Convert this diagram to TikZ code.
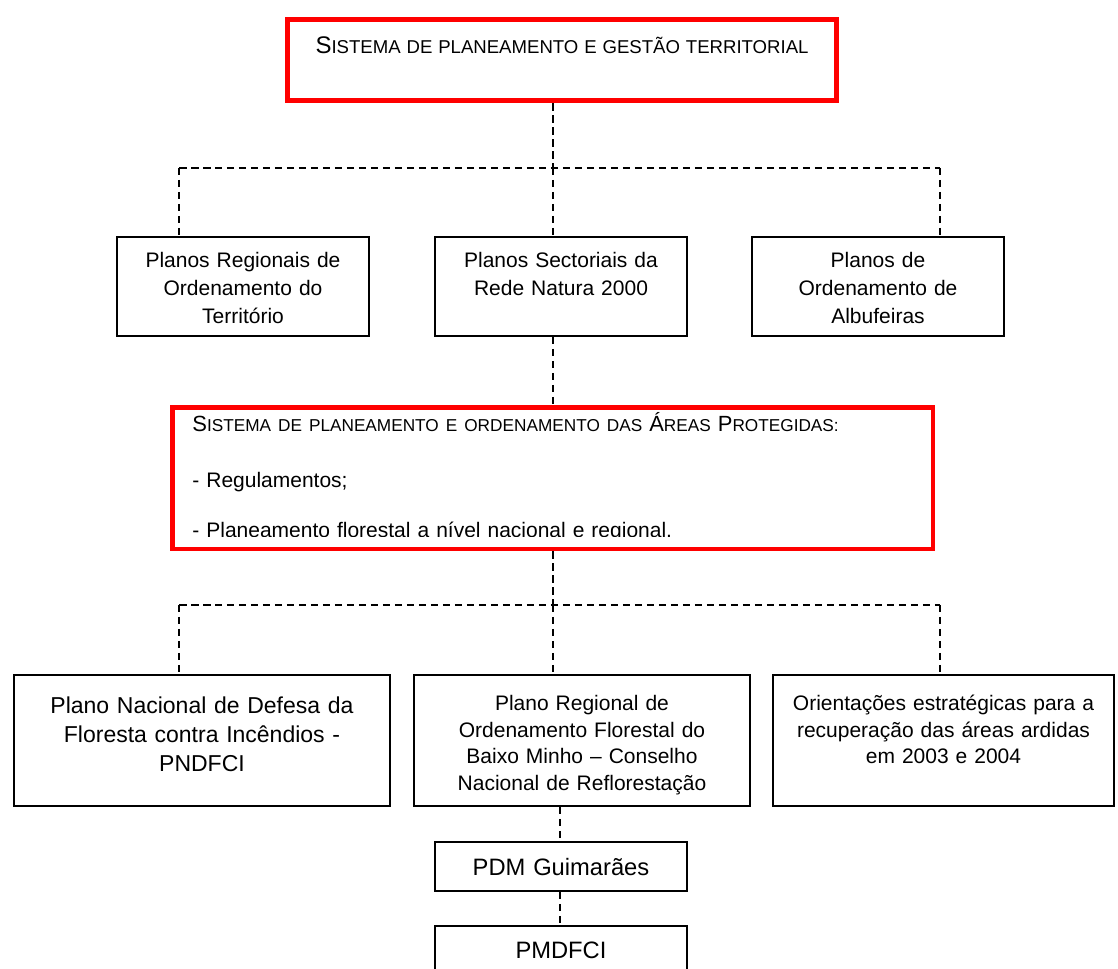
\documentclass[tikz,border=0pt]{standalone}
\usepackage{fontspec}
\setmainfont{Liberation Sans}
\usepackage{tikz}
% fake small caps for the two headers
\newcommand{\scA}[1]{{\fontsize{13.66pt}{16pt}\selectfont #1}}
\newcommand{\scB}[1]{{\fontsize{10.58pt}{16pt}\selectfont #1}}
\newcommand{\scC}[1]{{\fontsize{12.5pt}{16pt}\selectfont #1}}
\newcommand{\scD}[1]{{\fontsize{9.8pt}{16pt}\selectfont #1}}
\tikzset{
    box/.style={draw, line width=0.04cm, inner sep=0mm, anchor=north west, align=center},
    redbox/.style={box, draw=red, line width=0.1cm},
    link/.style={dash pattern=on 0.15cm off 0.09cm, line width=0.035cm},
    rowtwo/.style={font=\fontsize{11.95pt}{15.93pt}\selectfont, text width=4.8cm,
        minimum width=5.04cm, text height=0.62cm, text depth=1.36cm},
    rowthree/.style={font=\fontsize{11.95pt}{15.08pt}\selectfont,
        text height=0.72cm, text depth=1.90cm}
}

\begin{document}
\begin{tikzpicture}
    \useasboundingbox (0cm, 0cm) rectangle (22.36cm, 19.38cm);
    \clip (0cm, 0cm) rectangle (22.36cm, 19.38cm);

    \node (sgt) [redbox, minimum width=10.98cm, text width=10.5cm, text height=0.67cm, text depth=0.95cm] at (5.70cm, 19.03cm)
        {\scA{S}\scB{ISTEMA DE PLANEAMENTO E GESTÃO TERRITORIAL}};

    \node (pro) [box, rowtwo] at (2.32cm, 14.66cm) {Planos Regionais de\\ Ordenamento do\\ Território};
    \node (psrn) [box, rowtwo] at (8.68cm, 14.66cm) {Planos Sectoriais da\\ Rede Natura 2000};
    \node (poa) [box, rowtwo] at (15.02cm, 14.66cm) {Planos de\\ Ordenamento de\\ Albufeiras};

    \node (sap) [redbox, line width=0.09cm, minimum width=15.21cm, minimum height=2.83cm] at (3.405cm, 11.275cm) {};
    \coordinate (cut) at (18.5cm, 8.64cm);
    \begin{scope}
        \clip ([xshift=0.05cm, yshift=-0.05cm]sap.north west) rectangle (cut);
        \node (saptxt) [anchor=base west, inner sep=0mm, text width=14.5cm, align=left,
            font=\fontsize{11.95pt}{28.45pt}\selectfont] at (3.84cm, 10.74cm)
            {\scC{S}\scD{ISTEMA DE PLANEAMENTO E ORDENAMENTO DAS }\scC{Á}\scD{REAS }\scC{P}\scD{ROTEGIDAS:}\\[3.4pt]
             - Regulamentos;\\
             - Planeamento florestal a nível nacional e regional.};
    \end{scope}

    \node (pndfci) [box, font=\fontsize{13.09pt}{16.5pt}\selectfont, text width=7.2cm, minimum width=7.52cm,
        text height=0.78cm, text depth=1.84cm] at (0.26cm, 5.90cm)
        {Plano Nacional de Defesa da\\ Floresta contra Incêndios -\\ PNDFCI};
    \node (prof) [box, rowthree, text width=6.5cm, minimum width=6.72cm] at (8.26cm, 5.90cm)
        {Plano Regional de\\ Ordenamento Florestal do\\ Baixo Minho – Conselho\\ Nacional de Reflorestação};
    \node (oea) [box, rowthree, text width=6.6cm, minimum width=6.82cm] at (15.44cm, 5.90cm)
        {Orientações estratégicas para a\\ recuperação das áreas ardidas\\ em 2003 e 2004};

    \node (pdm) [box, font=\fontsize{13.5pt}{16pt}\selectfont, text width=4.8cm, minimum width=5.04cm,
        text height=0.68cm, text depth=0.30cm] at (8.68cm, 2.56cm) {PDM Guimarães};
    \node (pmdfci) [box, font=\fontsize{13.5pt}{16pt}\selectfont, text width=4.8cm, minimum width=5.04cm,
        text height=0.66cm, text depth=0.40cm] at (8.68cm, 0.88cm) {PMDFCI};

    \coordinate (b1l) at (3.58cm, 16.02cm);
    \coordinate (b1c) at (11.06cm, 16.02cm);
    \coordinate (b1r) at (18.80cm, 16.02cm);
    \coordinate (b2l) at (3.58cm, 7.28cm);
    \coordinate (b2c) at (11.06cm, 7.28cm);
    \coordinate (b2r) at (18.80cm, 7.28cm);
    \coordinate (c3) at (11.20cm, 0cm);

    \draw[link] (b1c |- sgt.south) edge (b1c);
    \draw[link] (b1l) edge (b1r);
    \draw[link] (b1l) edge (b1l |- pro.north);
    \draw[link] (b1c) edge (b1c |- psrn.north);
    \draw[link] (b1r) edge (b1r |- poa.north);

    \draw[link] (b1c |- psrn.south) edge (b1c |- sap.north);

    \draw[link] (b2c |- sap.south) edge (b2c);
    \draw[link] (b2l) edge (b2r);
    \draw[link] (b2l) edge (b2l |- pndfci.north);
    \draw[link] (b2c) edge (b2c |- prof.north);
    \draw[link] (b2r) edge (b2r |- oea.north);

    \draw[link] (c3 |- prof.south) edge (c3 |- pdm.north);
    \draw[link] (c3 |- pdm.south) edge (c3 |- pmdfci.north);
\end{tikzpicture}
\end{document}
